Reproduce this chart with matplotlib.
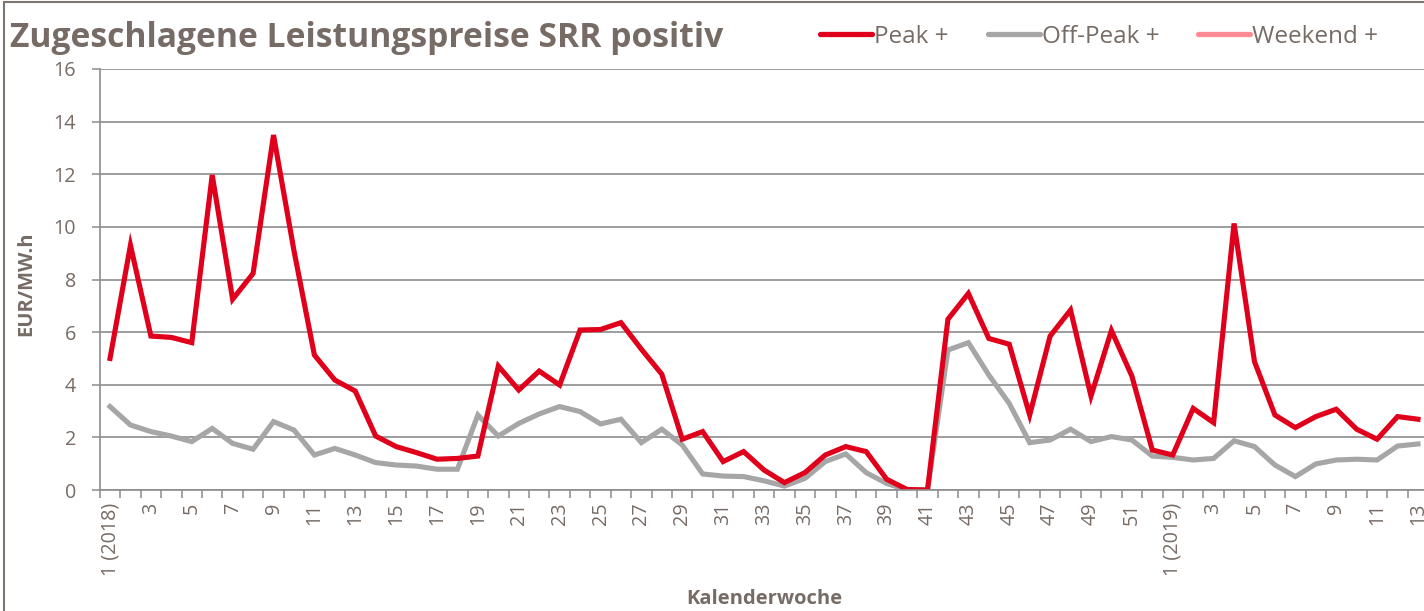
import matplotlib
matplotlib.use("Agg")
from matplotlib import pyplot as plt
from matplotlib.lines import Line2D
from matplotlib.patches import Rectangle
from matplotlib.ticker import FixedLocator, MultipleLocator

# Kalenderwochen 2018 (1..52) und 2019 (1..13)
weeks_2018 = list(range(1, 53))
weeks_2019 = list(range(1, 14))

peak_2018 = [5.0, 9.3, 5.85, 5.8, 5.6, 11.97, 7.25, 8.23, 13.49, 9.1,
             5.13, 4.18, 3.76, 2.05, 1.65, 1.42, 1.17, 1.2, 1.29, 4.71,
             3.8, 4.52, 3.99, 6.08, 6.1, 6.36, 5.35, 4.4, 1.93, 2.22,
             1.08, 1.46, 0.76, 0.28, 0.66, 1.33, 1.65, 1.46, 0.41, 0.02,
             0.0, 6.49, 7.47, 5.76, 5.54, 2.85, 5.85, 6.84, 3.57, 6.06,
             4.33, 1.52]
peak_2019 = [1.33, 3.1, 2.56, 10.13, 4.88, 2.85, 2.37, 2.79, 3.07, 2.31,
             1.93, 2.79, 2.69]

offpeak_2018 = [3.17, 2.47, 2.22, 2.05, 1.84, 2.34, 1.77, 1.55, 2.6, 2.28,
                1.33, 1.58, 1.33, 1.04, 0.95, 0.91, 0.79, 0.79, 2.85, 2.05,
                2.53, 2.89, 3.17, 2.98, 2.51, 2.69, 1.8, 2.31, 1.71, 0.61,
                0.53, 0.51, 0.35, 0.15, 0.44, 1.08, 1.37, 0.66, 0.25, 0.0,
                0.0, 5.32, 5.6, 4.37, 3.29, 1.8, 1.9, 2.31, 1.84, 2.03,
                1.9, 1.29]
offpeak_2019 = [1.24, 1.14, 1.2, 1.87, 1.65, 0.95, 0.51, 0.99, 1.14, 1.17,
                1.14, 1.67, 1.75]

categories = ([f"{w} (2018)" if w == 1 else str(w) for w in weeks_2018] +
              [f"{w} (2019)" if w == 1 else str(w) for w in weeks_2019])
peak = peak_2018 + peak_2019
offpeak = offpeak_2018 + offpeak_2019

RED = "#E0001B"
GREY = "#A6A6A6"
PINK = "#FF8C94"
TEXT = "#766B65"
GRID = "#8C8C8C"

W, H = 1424, 611
fig = plt.figure(figsize=(W / 100, H / 100), dpi=100)
plt.rcParams["font.family"] = ["Open Sans", "DejaVu Sans"]

# axes box in pixels: x 99.8..1428.2, y 69..490 (from top)
ax = fig.add_axes([99.8 / W, (H - 490) / H, 1328.4 / W, 421 / H])

x = list(range(len(categories)))
ax.plot(x, offpeak, color=GREY, linewidth=3.7, solid_joinstyle="miter")
ax.plot(x, peak, color=RED, linewidth=3.7, solid_joinstyle="miter")

ax.set_xlim(-0.5, len(categories) - 0.5)
ax.set_ylim(0, 16)
ax.yaxis.set_major_locator(MultipleLocator(2))
ax.grid(axis="y", color=GRID, linewidth=1.2)
ax.set_axisbelow(True)

# labels on every second week, tick marks between categories
ax.xaxis.set_major_locator(FixedLocator(x[::2]))
ax.set_xticklabels(categories[::2], rotation=90)
ax.xaxis.set_minor_locator(FixedLocator([i - 0.5 for i in x] + [x[-1] + 0.5]))
ax.tick_params(axis="x", which="major", length=0, pad=9, labelsize=14.2,
               labelcolor=TEXT)
ax.tick_params(axis="x", which="minor", length=6, width=1.1, color=GRID,
               direction="out")
ax.tick_params(axis="y", length=6, width=1.1, color=GRID, pad=11,
               labelsize=14.2, labelcolor=TEXT)

for side in ("top", "right"):
    ax.spines[side].set_visible(False)
for side in ("left", "bottom"):
    ax.spines[side].set_color(GRID)
    ax.spines[side].set_linewidth(1.2)

ax.set_ylabel("EUR/MW.h", fontsize=14.5, fontweight="bold", color=TEXT)
ax.yaxis.set_label_coords(-64 / 1328.4, 0.49)
ax.set_xlabel("Kalenderwoche", fontsize=14.5, fontweight="bold", color=TEXT)
ax.xaxis.set_label_coords(0.5, -99 / 421)

fig.text(10 / W, 1 - 38 / H, "Zugeschlagene Leistungspreise SRR positiv",
         fontsize=24.2, fontweight="bold", color=TEXT, ha="left", va="center")

handles = [Line2D([], [], color=RED, linewidth=3.8, solid_capstyle="round"),
           Line2D([], [], color=GREY, linewidth=3.8, solid_capstyle="round"),
           Line2D([], [], color=PINK, linewidth=3.8, solid_capstyle="round")]
leg = fig.legend(handles, ["Peak +", "Off-Peak +", "Weekend +"], ncol=3,
                 loc="center left", bbox_to_anchor=(820 / W, 1 - 37 / H),
                 frameon=False, fontsize=17.5, handlelength=2.15,
                 handletextpad=0.08, columnspacing=1.6, borderpad=0,
                 borderaxespad=0)
for t in leg.get_texts():
    t.set_color(TEXT)

# chart frame (cut off at right and bottom in the reference)
fig.patches.append(Rectangle((4 / W, -0.1), 1.2, 1.1 - 2 / H,
                             transform=fig.transFigure, fill=False,
                             edgecolor="#7F7570", linewidth=1.5))

fig.savefig("out.png", dpi=100)
